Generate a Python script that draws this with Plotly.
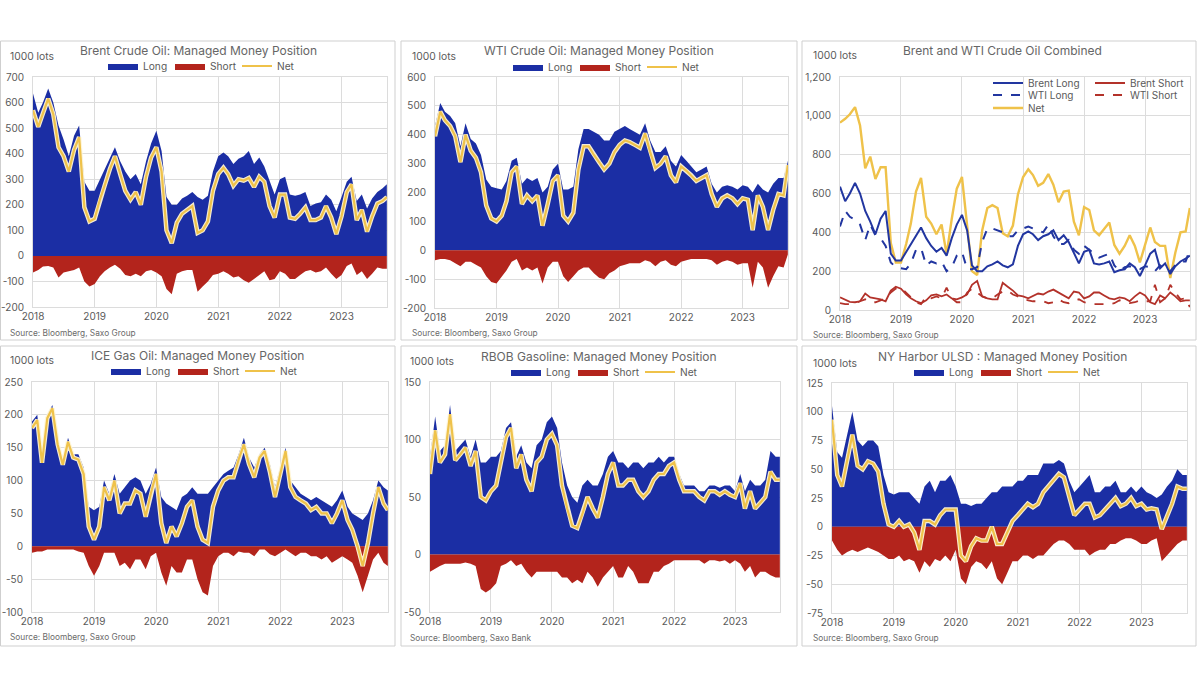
import pandas as pd
import plotly.graph_objects as go

W, H = 1200, 686

# ---------------- data (1000 lots, monthly readings + final week) ----------------
dates = list(pd.date_range("2018-01-01", "2023-09-01", freq="MS").strftime("%Y-%m-%d")) + ["2023-09-26"]

brent_long = [
    635, 560, 600, 655, 600, 510, 455, 390, 470, 510, 290, 255,
    255, 300, 335, 385, 425, 370, 330, 300, 320, 280, 370, 440,
    490, 410, 230, 200, 200, 225, 235, 250, 230, 220, 235, 330,
    390, 405, 390, 360, 380, 390, 410, 360, 385, 350, 290, 240,
    300, 310, 240, 235, 240, 250, 195, 205, 210, 240, 220, 175,
    230, 290, 310, 215, 240, 185, 225, 250, 265, 280]
brent_short = [
    -65, -55, -42, -40, -45, -85, -65, -60, -55, -45, -100, -120,
    -110, -80, -60, -45, -35, -50, -75, -80, -70, -80, -60, -55,
    -65, -80, -130, -150, -70, -60, -55, -55, -140, -120, -100, -75,
    -70, -60, -70, -85, -80, -95, -105, -90, -75, -60, -95, -90,
    -60, -70, -90, -90, -75, -60, -55, -65, -60, -45, -70, -90,
    -75, -40, -30, -75, -60, -90, -70, -45, -50, -50]

wti_long = [
    430, 510, 480, 465, 440, 360, 440, 385, 370, 330, 245, 220,
    215, 210, 240, 310, 320, 230, 250, 240, 250, 200, 220, 280,
    300, 210, 210, 220, 350, 420, 420, 410, 400, 380, 380, 410,
    420, 430, 420, 410, 400, 440, 380, 340, 340, 360, 310, 290,
    330, 310, 290, 270, 280, 290, 230, 200, 220, 225, 220, 210,
    225, 220, 200, 230, 210, 200, 230, 250, 250, 310]
wti_short = [
    -35, -30, -30, -35, -45, -55, -40, -40, -50, -60, -90, -110,
    -115, -90, -70, -40, -30, -70, -60, -70, -60, -115, -60, -40,
    -40, -90, -110, -90, -70, -60, -60, -80, -95, -100, -80, -70,
    -55, -50, -45, -45, -45, -35, -40, -55, -40, -35, -50, -55,
    -40, -35, -30, -30, -30, -30, -35, -50, -40, -35, -40, -50,
    -45, -45, -130, -40, -60, -130, -90, -55, -60, -15]

gasoil_long = [
    190, 200, 135, 200, 215, 160, 130, 165, 140, 140, 120, 60,
    55, 60, 100, 80, 110, 80, 90, 100, 105, 100, 80, 95,
    120, 75, 65, 60, 55, 75, 80, 90, 80, 80, 80, 90,
    100, 110, 115, 120, 140, 165, 135, 120, 140, 150, 125, 90,
    120, 150, 100, 90, 80, 75, 70, 75, 70, 65, 60, 70,
    85, 60, 50, 45, 40, 50, 70, 100, 90, 85]
gasoil_short = [
    -10, -8, -8, -5, -5, -5, -6, -6, -5, -8, -10, -30,
    -45, -30, -10, -10, -10, -30, -25, -35, -20, -20, -35, -15,
    -10, -40, -60, -30, -40, -40, -20, -20, -50, -70, -75, -30,
    -15, -10, -10, -15, -8, -10, -10, -15, -5, -5, -12, -15,
    -10, -5, -10, -15, -10, -10, -15, -15, -20, -15, -25, -20,
    -15, -20, -25, -45, -70, -45, -20, -10, -25, -30]

rbob_long = [
    85, 120, 90, 95, 130, 90, 95, 100, 85, 100, 80, 80,
    85, 85, 90, 110, 115, 85, 95, 80, 75, 95, 100, 115,
    120, 110, 80, 60, 50, 45, 60, 65, 60, 60, 70, 85,
    90, 80, 80, 75, 80, 80, 75, 80, 80, 85, 80, 85,
    85, 70, 60, 60, 60, 55, 55, 60, 60, 58, 60, 60,
    55, 70, 55, 65, 60, 60, 65, 90, 85, 85]
rbob_short = [
    -15, -12, -10, -8, -8, -8, -8, -7, -8, -10, -30, -33,
    -30, -25, -10, -8, -5, -10, -8, -15, -20, -15, -15, -15,
    -15, -15, -20, -20, -25, -22, -25, -15, -20, -28, -20, -15,
    -10, -20, -20, -10, -15, -25, -25, -25, -15, -15, -10, -8,
    -5, -5, -5, -5, -5, -5, -8, -5, -5, -6, -5, -8,
    -5, -8, -15, -10, -20, -15, -15, -18, -20, -20]

ulsd_long = [
    105, 65, 60, 80, 100, 75, 70, 75, 75, 70, 45, 30,
    28, 30, 30, 30, 25, 20, 35, 40, 30, 40, 40, 45,
    35, 20, 20, 18, 20, 20, 25, 30, 30, 35, 35, 35,
    40, 40, 45, 45, 45, 55, 55, 55, 58, 55, 40, 30,
    35, 40, 45, 30, 30, 35, 35, 40, 30, 30, 35, 30,
    35, 30, 28, 25, 28, 35, 40, 50, 45, 45]
ulsd_short = [
    -12, -20, -25, -22, -20, -22, -20, -18, -20, -22, -25, -28,
    -28, -25, -30, -28, -30, -40, -30, -35, -28, -30, -25, -30,
    -20, -45, -50, -35, -30, -32, -37, -30, -45, -50, -40, -30,
    -30, -25, -25, -28, -25, -25, -20, -15, -12, -12, -15, -20,
    -20, -20, -25, -22, -20, -20, -15, -15, -12, -10, -10, -12,
    -15, -15, -12, -10, -30, -25, -20, -15, -12, -12]

year_ticks = ["2018-01-01", "2019-01-01", "2020-01-01", "2021-01-01", "2022-01-01", "2023-01-01"]
year_labels = ["2018", "2019", "2020", "2021", "2022", "2023"]

brent_yticks = [-200, -100, 0, 100, 200, 300, 400, 500, 600, 700]
wti_yticks = [-200, -100, 0, 100, 200, 300, 400, 500, 600]
combined_yticks = [0, 200, 400, 600, 800, 1000, 1200]
gasoil_yticks = [-100, -50, 0, 50, 100, 150, 200, 250]
rbob_yticks = [-50, 0, 50, 100, 150]
ulsd_yticks = [-75, -50, -25, 0, 25, 50, 75, 100, 125]

# ---------------- styling ----------------
FONT = "Inter, Roboto, 'Open Sans', sans-serif"
BLUE = "#1b2ea4"
RED = "#b3241c"
YELLOW = "#efc24a"
HALO = "rgba(255,246,214,0.95)"
GRID = "#dcdcdc"
TXT = "#5a5a5a"


def px_x(a):
    return a / W


def px_y(a):
    return 1 - a / H


fig = go.Figure()

area_panels = [
    # idx, title, long, short, yticks, plot rect(l,t,r,b), box, title pos, unit pos, source pos, legend pos, source text
    (1, "Brent Crude Oil: Managed Money Position", brent_long, brent_short, brent_yticks,
     (33, 77, 387, 307), (0.5, 41, 395, 340), (198, 51), (8, 56), (8, 333), (103, 66), "Source: Bloomberg, Saxo Group"),
    (2, "WTI Crude Oil: Managed Money Position", wti_long, wti_short, wti_yticks,
     (435, 77, 788, 308), (401, 41, 797, 340), (599, 51), (410, 56), (410, 333), (508, 67), "Source: Bloomberg, Saxo Group"),
    (4, "ICE Gas Oil: Managed Money Position", gasoil_long, gasoil_short, gasoil_yticks,
     (32, 382, 388, 612), (0.5, 346, 395, 646), (197, 355), (8, 360), (8, 637), (106, 371), "Source: Bloomberg, Saxo Group"),
    (5, "RBOB Gasoline: Managed Money Position", rbob_long, rbob_short, rbob_yticks,
     (430, 382, 780, 612), (401, 346, 797, 646), (599, 356), (408, 361), (408, 638), (506, 372), "Source: Bloomberg, Saxo Bank"),
    (6, "NY Harbor ULSD : Managed Money Position", ulsd_long, ulsd_short, ulsd_yticks,
     (832, 383, 1187, 613), (802, 346, 1196, 646), (1002, 356), (811, 363), (811, 638), (909, 372), "Source: Bloomberg, Saxo Group"),
]

annotations = []
shapes = []
layout_axes = {}
legends = {}


def add_axes(idx, rect, yticks, yfmt=str):
    l, t, r, b = rect
    xa = "xaxis" if idx == 1 else f"xaxis{idx}"
    ya = "yaxis" if idx == 1 else f"yaxis{idx}"
    xs = "x" if idx == 1 else f"x{idx}"
    ys = "y" if idx == 1 else f"y{idx}"
    layout_axes[xa] = dict(
        domain=[px_x(l), px_x(r)], anchor=ys, type="date",
        range=["2018-01-01", "2023-09-27"],
        tickvals=year_ticks, ticktext=year_labels,
        showgrid=True, gridcolor=GRID, gridwidth=1,
        showline=True, mirror=True, linecolor=GRID, linewidth=1,
        zeroline=False, ticks="", tickfont=dict(size=10, color=TXT, family=FONT),
        fixedrange=True, automargin=False,
    )
    layout_axes[ya] = dict(
        domain=[px_y(b), px_y(t)], anchor=xs,
        range=[yticks[0], yticks[-1]],
        tickvals=yticks, ticktext=[yfmt(v) for v in yticks],
        showgrid=True, gridcolor=GRID, gridwidth=1,
        showline=True, mirror=True, linecolor=GRID, linewidth=1,
        zeroline=False, ticks="", ticklabelstandoff=6,
        tickfont=dict(size=10, color=TXT, family=FONT),
        fixedrange=True, automargin=False,
    )
    return xs, ys


def add_texts(title, tpos, upos, spos, source, box):
    annotations.append(dict(text=title, x=px_x(tpos[0]), y=px_y(tpos[1]), xref="paper", yref="paper",
                            xanchor="center", yanchor="middle", showarrow=False,
                            font=dict(size=12, color="#666666", family=FONT)))
    annotations.append(dict(text="1000 lots", x=px_x(upos[0]), y=px_y(upos[1]), xref="paper", yref="paper",
                            xanchor="left", yanchor="middle", showarrow=False,
                            font=dict(size=10.3, color=TXT, family=FONT)))
    annotations.append(dict(text=source, x=px_x(spos[0]), y=px_y(spos[1]), xref="paper", yref="paper",
                            xanchor="left", yanchor="middle", showarrow=False,
                            font=dict(size=8.3, color="#6a6a6a", family=FONT)))
    shapes.append(dict(type="rect", xref="paper", yref="paper",
                       x0=px_x(box[0]), x1=px_x(box[2]), y0=px_y(box[3]), y1=px_y(box[1]),
                       line=dict(color="#cfcfcf", width=1), fillcolor="rgba(0,0,0,0)", layer="below"))


def legend_cfg(x, y, entrywidth, size=10.2):
    return dict(orientation="h", x=px_x(x), y=px_y(y), xref="paper", yref="paper",
                xanchor="left", yanchor="middle", bgcolor="rgba(0,0,0,0)",
                entrywidth=entrywidth, entrywidthmode="pixels", itemwidth=30,
                font=dict(size=size, color=TXT, family=FONT), traceorder="normal",
                itemclick=False, itemdoubleclick=False)


for (idx, title, lg, sh, yticks, rect, box, tpos, upos, spos, lpos, source) in area_panels:
    xs, ys = add_axes(idx, rect, yticks)
    lname = "legend" if idx == 1 else f"legend{idx}"
    net = [a + b for a, b in zip(lg, sh)]
    fig.add_trace(go.Scatter(x=dates, y=lg, name="Long", mode="lines", fill="tozeroy",
                             fillcolor=BLUE, line=dict(width=0, color=BLUE),
                             xaxis=xs, yaxis=ys, legend=lname, hoverinfo="skip"))
    fig.add_trace(go.Scatter(x=dates, y=sh, name="Short", mode="lines", fill="tozeroy",
                             fillcolor=RED, line=dict(width=0, color=RED),
                             xaxis=xs, yaxis=ys, legend=lname, hoverinfo="skip"))
    fig.add_trace(go.Scatter(x=dates, y=net, name="Net halo", mode="lines",
                             line=dict(width=4.5, color=HALO), showlegend=False,
                             xaxis=xs, yaxis=ys, hoverinfo="skip"))
    fig.add_trace(go.Scatter(x=dates, y=net, name="Net", mode="lines",
                             line=dict(width=2.2, color=YELLOW),
                             xaxis=xs, yaxis=ys, legend=lname, hoverinfo="skip"))
    legends[lname] = legend_cfg(lpos[0], lpos[1], 22)
    add_texts(title, tpos, upos, spos, source, box)

# ---------------- combined panel ----------------
xs3, ys3 = add_axes(3, (840, 77, 1190, 310), combined_yticks, yfmt=lambda v: f"{v:,}")
brent_short_abs = [-v for v in brent_short]
wti_short_abs = [-v for v in wti_short]
combined_net = [a + b + c + d for a, b, c, d in zip(brent_long, brent_short, wti_long, wti_short)]

fig.add_trace(go.Scatter(x=dates, y=combined_net, name="Net", mode="lines",
                         line=dict(width=2.4, color=YELLOW), xaxis=xs3, yaxis=ys3,
                         legend="legend9", hoverinfo="skip"))
fig.add_trace(go.Scatter(x=dates, y=brent_long, name="Brent Long", mode="lines",
                         line=dict(width=2, color="#2236a0"), xaxis=xs3, yaxis=ys3,
                         legend="legend7", hoverinfo="skip"))
fig.add_trace(go.Scatter(x=dates, y=brent_short_abs, name="Brent Short", mode="lines",
                         line=dict(width=1.8, color="#b3322a"), xaxis=xs3, yaxis=ys3,
                         legend="legend7", hoverinfo="skip"))
fig.add_trace(go.Scatter(x=dates, y=wti_long, name="WTI Long", mode="lines",
                         line=dict(width=2, color="#2236a0", dash="dash"), xaxis=xs3, yaxis=ys3,
                         legend="legend8", hoverinfo="skip"))
fig.add_trace(go.Scatter(x=dates, y=wti_short_abs, name="WTI Short", mode="lines",
                         line=dict(width=1.8, color="#b3322a", dash="dash"), xaxis=xs3, yaxis=ys3,
                         legend="legend8", hoverinfo="skip"))
legends["legend7"] = legend_cfg(988, 83, 57, size=10)
legends["legend8"] = legend_cfg(988, 95, 57, size=10)
legends["legend9"] = legend_cfg(988, 108, 57, size=10)
add_texts("Brent and WTI Crude Oil Combined", (1002, 51), (811, 55), (811, 335),
          "Source: Bloomberg, Saxo Group", (802, 41, 1196, 340))

fig.update_layout(
    width=W, height=H,
    margin=dict(l=0, r=0, t=0, b=0, pad=0, autoexpand=False),
    paper_bgcolor="white", plot_bgcolor="white",
    font=dict(family=FONT, color=TXT),
    showlegend=True,
    annotations=annotations, shapes=shapes,
    **layout_axes, **legends,
)

fig.write_html(
    "out.html",
    config={"displayModeBar": False, "staticPlot": False},
    post_script="document.body.style.margin='0';document.body.style.padding='0';"
                "document.body.style.overflow='hidden';",
)
